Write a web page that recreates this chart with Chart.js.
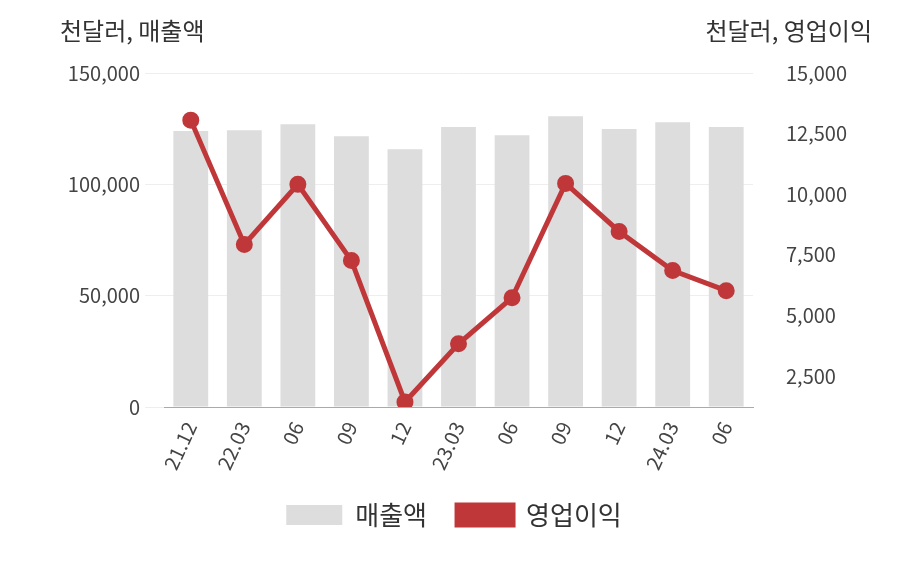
<!DOCTYPE html>
<html><head><meta charset="utf-8">
<script src="https://cdn.jsdelivr.net/npm/chart.js@4"></script>
<style>
body{margin:0;background:#fff;font-family:"Noto Sans CJK KR","Noto Sans",sans-serif}
#w{position:relative;width:908px;height:580px}
.u{position:absolute;top:12px;font-size:24px;color:#333}
</style></head><body>
<div id="w"><canvas id="c" width="908" height="580"></canvas>
<div class="u" style="left:60px">천달러, 매출액</div>
<div class="u" style="right:36px">천달러, 영업이익</div></div>
<script>
const categories=["21.12","22.03","06","09","12","23.03","06","09","12","24.03","06"];
const revenue=[123900,124300,127000,121600,115800,125700,122000,130600,124800,127900,125700];
const opProfit=[13055,7922,10404,7260,1424,3824,5728,10445,8460,6846,6018];
const leftTicks=[0,50000,100000,150000];
const rightTicks=[2500,5000,7500,10000,12500,15000];
const red='#c0373a';
Chart.defaults.font.family='"Noto Sans CJK KR","Noto Sans",sans-serif';
Chart.defaults.color='#444';
new Chart(document.getElementById('c'),{
 data:{labels:categories,datasets:[
  {type:'bar',label:'매출액',data:revenue,backgroundColor:'#dddddd',yAxisID:'y',order:2,categoryPercentage:0.65,barPercentage:1},
  {type:'line',label:'영업이익',data:opProfit,borderColor:red,backgroundColor:red,borderWidth:5,pointRadius:6,pointBackgroundColor:red,yAxisID:'y1',order:1}
 ]},
 options:{responsive:false,animation:false,
  layout:{padding:{top:73,left:0,right:0,bottom:42}},
  plugins:{legend:{position:'bottom',labels:{sort:(a,b)=>a.datasetIndex-b.datasetIndex,font:{size:26},boxWidth:56,boxHeight:20,padding:30,color:'#333'}},tooltip:{enabled:false}},
  scales:{
   x:{afterFit:s=>{s.height=65},grid:{display:false},border:{color:'#aaa'},ticks:{font:{size:20},maxRotation:65,minRotation:65,color:'#444'}},
   y:{position:'left',min:0,max:150000,afterFit:s=>{s.width=164},afterBuildTicks:a=>{a.ticks=leftTicks.map(v=>({value:v}))},
      ticks:{padding:5,font:{size:20},callback:v=>v.toLocaleString('en-US')},grid:{color:'#eee',tickLength:19},border:{display:false}},
   y1:{position:'right',min:1217,max:15000,afterFit:s=>{s.width=155},afterBuildTicks:a=>{a.ticks=rightTicks.map(v=>({value:v}))},
      ticks:{padding:25,font:{size:20},callback:v=>v.toLocaleString('en-US')},grid:{display:false},border:{display:false}}
  }}
});
</script></body></html>
